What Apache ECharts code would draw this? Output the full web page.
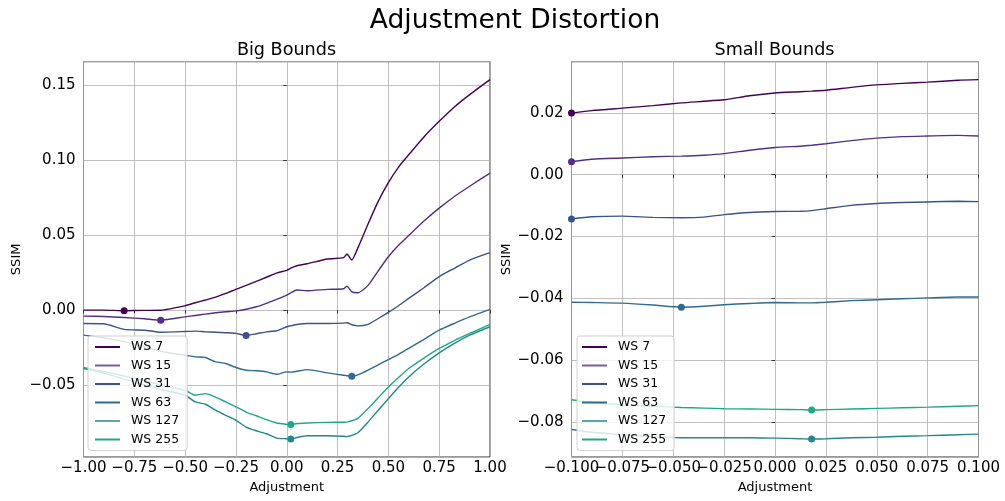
<!DOCTYPE html>
<html>
<head>
<meta charset="utf-8">
<script src="https://cdn.jsdelivr.net/npm/echarts@6/dist/echarts.min.js"></script>
<style>
  html, body { margin: 0; padding: 0; background: #fff; }
  #chart { width: 1005px; height: 501px; }
</style>
</head>
<body>
<div id="chart"></div>
<script>
// Window sizes and their viridis-style colours
const seriesNames = ['WS 7', 'WS 15', 'WS 31', 'WS 63', 'WS 127', 'WS 255'];
const seriesColors = ['#440154', '#512f86', '#3b528b', '#2e6b8e', '#24878e', '#22a784'];
const legendColors = ['#440154', '#7a5aa8', '#3b528b', '#2e6b8e', '#5aa6a8', '#22a784'];

// Big bounds: adjustment in [-1, 1]
const bigX = [-1.0, -0.9, -0.8, -0.7, -0.62, -0.5, -0.45, -0.4, -0.35, -0.3, -0.25, -0.2, -0.15, -0.1, -0.05, 0.0, 0.02, 0.05, 0.1, 0.2, 0.28, 0.296, 0.32, 0.35, 0.4, 0.45, 0.5, 0.55, 0.6, 0.675, 0.75, 0.825, 0.9, 1.0];
const bigWS7 = [0.0, 0.0, -0.0004, -0.0002, -0.0001, 0.0029, 0.0049, 0.0067, 0.0087, 0.0111, 0.0138, 0.0165, 0.0192, 0.0219, 0.0247, 0.0265, 0.028, 0.0296, 0.0309, 0.0341, 0.035, 0.0374, 0.0334, 0.0415, 0.0574, 0.0725, 0.085, 0.0954, 0.1036, 0.1155, 0.1259, 0.1355, 0.1437, 0.1537];
const bigWS15 = [-0.004, -0.0043, -0.0049, -0.0058, -0.0067, -0.0045, -0.0036, -0.0027, -0.0018, -0.0011, -0.0005, 0.0006, 0.0022, 0.0045, 0.0071, 0.01, 0.0115, 0.0134, 0.0129, 0.0138, 0.0142, 0.016, 0.0122, 0.0116, 0.0165, 0.0262, 0.0356, 0.0432, 0.0497, 0.0594, 0.068, 0.0758, 0.0826, 0.0914];
const bigWS31 = [-0.0089, -0.0091, -0.0129, -0.0134, -0.0148, -0.0143, -0.014, -0.0145, -0.0148, -0.0151, -0.0155, -0.0169, -0.0158, -0.0145, -0.0138, -0.0111, -0.0105, -0.0096, -0.0089, -0.0089, -0.0087, -0.0084, -0.0098, -0.0105, -0.0095, -0.0056, -0.0015, 0.0029, 0.0078, 0.0149, 0.0223, 0.0279, 0.0334, 0.0383];
const bigWS63 = [-0.0167, -0.0185, -0.021, -0.0245, -0.0275, -0.0301, -0.0312, -0.0316, -0.0345, -0.0356, -0.0383, -0.0401, -0.0405, -0.0412, -0.0428, -0.0412, -0.0414, -0.0408, -0.0397, -0.0419, -0.0435, -0.0438, -0.0441, -0.0432, -0.0401, -0.0365, -0.033, -0.0295, -0.0256, -0.0195, -0.0134, -0.0088, -0.0045, 0.0005];
const bigWS127 = [-0.039, -0.042, -0.046, -0.05, -0.053, -0.0568, -0.0613, -0.0628, -0.0668, -0.0702, -0.0735, -0.078, -0.0805, -0.0825, -0.0854, -0.0858, -0.086, -0.085, -0.0838, -0.0838, -0.0842, -0.0844, -0.0836, -0.0818, -0.0747, -0.0668, -0.0591, -0.0515, -0.0446, -0.036, -0.0285, -0.0222, -0.0167, -0.0111];
const bigWS255 = [-0.0383, -0.041, -0.044, -0.047, -0.05, -0.0535, -0.0568, -0.0557, -0.058, -0.0613, -0.0646, -0.068, -0.0705, -0.0731, -0.0753, -0.0762, -0.0764, -0.0757, -0.0753, -0.0749, -0.0748, -0.0747, -0.0738, -0.0722, -0.0657, -0.0585, -0.0513, -0.045, -0.039, -0.032, -0.0256, -0.0203, -0.0156, -0.0096];

// Small bounds: adjustment in [-0.1, 0.1]
const smallX = [-0.1, -0.09, -0.075, -0.06, -0.046, -0.035, -0.025, -0.0125, 0.0, 0.0125, 0.018, 0.025, 0.0375, 0.05, 0.0625, 0.075, 0.09, 0.1];
const smallWS7 = [0.0199, 0.0207, 0.0215, 0.0223, 0.0232, 0.0237, 0.0242, 0.0255, 0.0264, 0.0268, 0.027, 0.0273, 0.0282, 0.029, 0.0295, 0.0299, 0.0305, 0.0307];
const smallWS15 = [0.0042, 0.005, 0.0054, 0.0058, 0.006, 0.0063, 0.0068, 0.0079, 0.0088, 0.0092, 0.0095, 0.01, 0.011, 0.0118, 0.0123, 0.0125, 0.0127, 0.0125];
const smallWS31 = [-0.0143, -0.0136, -0.0134, -0.0138, -0.0139, -0.0137, -0.0129, -0.0122, -0.0119, -0.0118, -0.0116, -0.011, -0.0099, -0.0093, -0.009, -0.0088, -0.0086, -0.0087];
const smallWS63 = [-0.0412, -0.0413, -0.0415, -0.0421, -0.0428, -0.0425, -0.042, -0.0416, -0.0413, -0.0414, -0.0414, -0.0412, -0.0407, -0.0404, -0.0401, -0.0398, -0.0395, -0.0395];
const smallWS127 = [-0.0823, -0.0832, -0.084, -0.0846, -0.085, -0.085, -0.085, -0.085, -0.0851, -0.0853, -0.0854, -0.0853, -0.085, -0.0848, -0.0845, -0.0843, -0.084, -0.0838];
const smallWS255 = [-0.0727, -0.0736, -0.0743, -0.0748, -0.0752, -0.0754, -0.0756, -0.0757, -0.0758, -0.0759, -0.076, -0.0759, -0.0757, -0.0755, -0.0753, -0.0751, -0.0748, -0.0746];

// Axis ranges and tick steps
const bigXRange = [-1, 1], bigXStep = 0.25;
const bigYRange = [-0.098, 0.1657], bigYStep = 0.05;
const smallXRange = [-0.1, 0.1], smallXStep = 0.025;
const smallYRange = [-0.0912, 0.0365], smallYStep = 0.02;

const bigSeries = [bigWS7, bigWS15, bigWS31, bigWS63, bigWS127, bigWS255];
const smallSeries = [smallWS7, smallWS15, smallWS31, smallWS63, smallWS127, smallWS255];

const FONT = 'DejaVu Sans';
const fmt = (digits) => (v) => {
  if (Math.abs(v) < 1e-9) v = 0;
  return v.toFixed(digits).replace('-', '\u2212');
};

function lineSeries(xs, ys, i, axis) {
  const color = seriesColors[i];
  return {
    type: 'line',
    name: seriesNames[i],
    xAxisIndex: axis,
    yAxisIndex: axis,
    data: xs.map((x, k) => [x, ys[k]]),
    symbol: 'none',
    smooth: 0.2,
    lineStyle: { width: 1.4, color: color },
    itemStyle: { color: color },
    markPoint: {
      symbol: 'circle',
      symbolSize: 7,
      silent: true,
      label: { show: false },
      itemStyle: { color: color },
      data: [{ type: 'min' }]
    }
  };
}

const tickStyle = { show: true, inside: false, length: 3.5, lineStyle: { color: '#333', width: 1 } };
const gridLineStyle = { show: true, lineStyle: { color: '#b0b0b0', width: 0.8 } };

// showFirst: whether the label at the axis minimum is drawn by this axis
function xAxis(grid, range, step, digits, showFirst) {
  return {
    type: 'value', gridIndex: grid, position: 'bottom', min: range[0], max: range[1], interval: step,
    name: 'Adjustment', nameLocation: 'middle', nameGap: 22,
    nameTextStyle: { fontFamily: FONT, fontSize: 13, color: '#000' },
    axisLine: { show: false },
    axisTick: tickStyle,
    axisLabel: {
      fontFamily: FONT, fontSize: 15, color: '#000', margin: 4, formatter: fmt(digits),
      showMinLabel: showFirst, showMaxLabel: true, hideOverlap: false
    },
    splitLine: gridLineStyle
  };
}

// Companion axis that only writes the minimum label, so crowded neighbours stay visible
function xAxisMinLabel(grid, range, step, digits) {
  const f = fmt(digits);
  return {
    type: 'value', gridIndex: grid, position: 'bottom', min: range[0], max: range[1], interval: step,
    axisLine: { show: false }, axisTick: { show: false }, splitLine: { show: false },
    axisLabel: {
      fontFamily: FONT, fontSize: 15, color: '#000', margin: 4,
      showMinLabel: true, showMaxLabel: false, hideOverlap: false,
      formatter: (v) => (Math.abs(v - range[0]) < 1e-9 ? f(v) : '')
    }
  };
}

function yAxis(grid, range, step, gap) {
  return {
    type: 'value', gridIndex: grid, min: range[0], max: range[1],
    minInterval: step, maxInterval: step,
    name: 'SSIM', nameLocation: 'middle', nameGap: gap, nameRotate: 90,
    nameTextStyle: { fontFamily: FONT, fontSize: 13, color: '#000' },
    axisLine: { show: false },
    axisTick: tickStyle,
    axisLabel: { fontFamily: FONT, fontSize: 15, color: '#000', margin: 8, formatter: fmt(2), showMinLabel: false, showMaxLabel: false },
    splitLine: gridLineStyle
  };
}

function legend(left, padLeft) {
  return {
    orient: 'vertical', left: left, top: 336,
    padding: [3, 8, 3, padLeft],
    itemGap: 2.5, itemWidth: 25, itemHeight: 2, icon: 'rect',
    backgroundColor: 'rgba(255,255,255,0.8)', borderColor: '#d0d0d0', borderWidth: 1, borderRadius: 3,
    textStyle: { fontFamily: FONT, fontSize: 12.5, color: '#000', lineHeight: 16, padding: [0, 0, 0, 6] },
    selectedMode: false,
    data: seriesNames.map((n, i) => ({ name: n, itemStyle: { color: legendColors[i] } }))
  };
}

const series = [];
bigSeries.forEach((ys, i) => series.push(lineSeries(bigX, ys, i, 0)));
smallSeries.forEach((ys, i) => series.push(lineSeries(smallX, ys, i, 1)));

const option = {
  animation: false,
  backgroundColor: '#fff',
  title: [
    { text: 'Adjustment Distortion', left: 515, top: 21, padding: 0, textAlign: 'center', textVerticalAlign: 'middle',
      textStyle: { fontFamily: FONT, fontSize: 26.5, fontWeight: 'normal', color: '#000' } },
    { text: 'Big Bounds', left: 286.5, top: 50, padding: 0, textAlign: 'center', textVerticalAlign: 'middle',
      textStyle: { fontFamily: FONT, fontSize: 17.6, fontWeight: 'normal', color: '#000' } },
    { text: 'Small Bounds', left: 774.5, top: 50, padding: 0, textAlign: 'center', textVerticalAlign: 'middle',
      textStyle: { fontFamily: FONT, fontSize: 17.6, fontWeight: 'normal', color: '#000' } }
  ],
  grid: [
    { left: 83.5, top: 61.7, width: 406.5, height: 395.3, show: true, borderColor: '#333', borderWidth: 1, backgroundColor: 'transparent' },
    { left: 571.5, top: 61.7, width: 407, height: 395.3, show: true, borderColor: '#333', borderWidth: 1, backgroundColor: 'transparent' }
  ],
  xAxis: [
    xAxis(0, bigXRange, bigXStep, 2, true),
    xAxis(1, smallXRange, smallXStep, 3, false),
    xAxisMinLabel(1, smallXRange, smallXStep, 3)
  ],
  yAxis: [yAxis(0, bigYRange, bigYStep, 60), yAxis(1, smallYRange, smallYStep, 58)],
  legend: [legend(88, 7), legend(577, 5)],
  series: series
};

const chart = echarts.init(document.getElementById('chart'), null, { renderer: 'canvas' });
chart.setOption(option);
</script>
</body>
</html>
